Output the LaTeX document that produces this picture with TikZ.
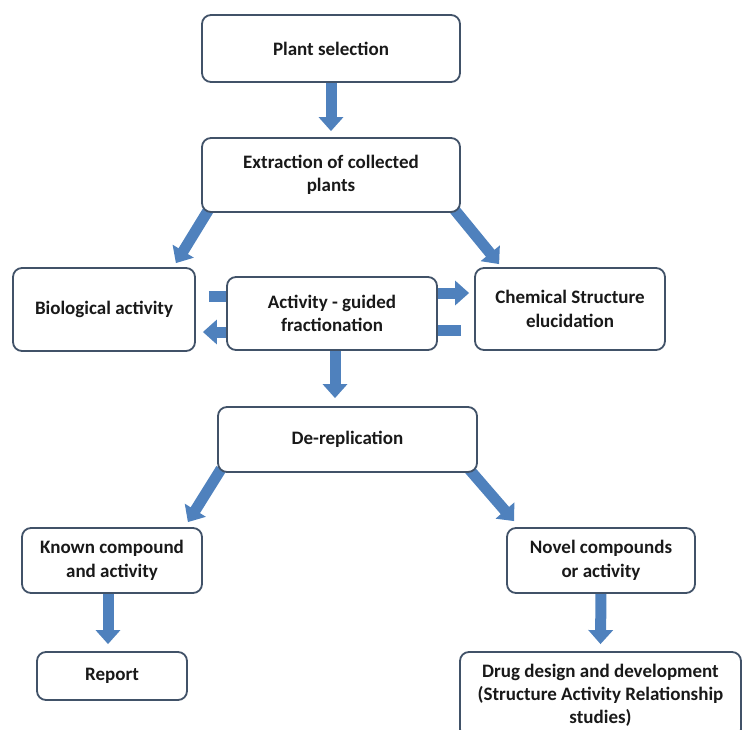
\documentclass[tikz,border=0pt]{standalone}
\usepackage{fontspec}
\setmainfont{Carlito}
\usetikzlibrary{arrows.meta,backgrounds}

\definecolor{boxline}{RGB}{65,82,104}
\definecolor{pilblue}{RGB}{79,129,189}
\definecolor{tekst}{RGB}{25,25,25}

\tikzset{
  boks/.style={draw=boxline, line width=1.8pt, rounded corners=9pt, fill=white,
    align=center, inner sep=0pt, text=tekst,
    font=\fontsize{19}{23.5}\selectfont\bfseries},
  pil/.style={draw=pilblue, line width=11pt,
    -{Triangle[length=14pt,width=24pt]}}
}

\begin{document}
\begin{tikzpicture}[x=1pt,y=-1pt]
  %ramme
    \path[use as bounding box] (0,0) rectangle (742,729);
    \clip (0,0) rectangle (742,729);

%Bokser
    \node[boks, minimum width=258pt, minimum height=67pt] (plant) at (331,48.5) {Plant selection};
    \node[boks, minimum width=258pt, minimum height=74pt] (extract) at (331,175) {Extraction of collected\\plants};
    \node[boks, minimum width=182pt, minimum height=83pt] (bio) at (104,309.5) {Biological activity};
    \node[boks, minimum width=210pt, minimum height=73pt] (guided) at (332,313.5) {Activity - guided\\fractionation};
    \node[boks, minimum width=190pt, minimum height=82pt] (chem) at (570,309) {Chemical Structure\\elucidation};
    \node[boks, minimum width=259pt, minimum height=65pt] (derep) at (347.5,439.5) {De-replication};
    \node[boks, minimum width=180pt, minimum height=65pt] (known) at (112,560.5) {Known compound\\and activity};
    \node[boks, minimum width=188pt, minimum height=65pt] (novel) at (601,560.5) {Novel compounds\\or activity};
    \node[boks, minimum width=150pt, minimum height=48pt] (report) at (112,676) {Report};
    \node[boks, minimum width=281pt, minimum height=86pt, font=\fontsize{19}{23}\selectfont\bfseries] (drug) at (600.5,695) {Drug design and development\\(Structure Activity Relationship\\studies)};

%Piler
  \begin{scope}[on background layer]
    \draw[pil] ([yshift=2pt]plant.south) -- ([yshift=6pt]extract.north);
    \draw[pil] ([xshift=8pt,yshift=4pt]extract.south west) -- ([xshift=-20pt,yshift=4pt]bio.north east);
    \draw[pil] ([xshift=-7pt,yshift=4pt]extract.south east) -- ([xshift=25pt,yshift=3pt]chem.north west);
    % sidepiler
    \draw[pil] ([xshift=13pt,yshift=13pt]bio.east) -- ([xshift=20pt,yshift=17pt]guided.west);
    \draw[pil] ([xshift=3pt,yshift=-18.5pt]guided.west) -- ([xshift=7pt,yshift=-22.5pt]bio.east);
    \draw[pil] ([xshift=-3pt,yshift=20.5pt]guided.east) -- ([xshift=-5pt,yshift=16pt]chem.west);
    \draw[pil] ([xshift=-13pt,yshift=-21pt]chem.west) -- ([xshift=-20pt,yshift=-16.5pt]guided.east);
    % ned
    \draw[pil] ([xshift=3pt,yshift=2pt]guided.south) -- ([xshift=-12.5pt,yshift=8pt]derep.north);
    \draw[pil] ([xshift=4pt,yshift=4pt]derep.south west) -- ([xshift=-15pt,yshift=5pt]known.north east);
    \draw[pil] ([xshift=-9pt,yshift=4pt]derep.south east) -- ([xshift=8pt,yshift=6pt]novel.north west);
    \draw[pil] ([xshift=-4pt,yshift=2pt]known.south) -- ([xshift=-4pt,yshift=7pt]report.north);
    \draw[pil] ([yshift=2pt]novel.south) -- ([yshift=7pt]drug.north);
  \end{scope}

\end{tikzpicture}
\end{document}
